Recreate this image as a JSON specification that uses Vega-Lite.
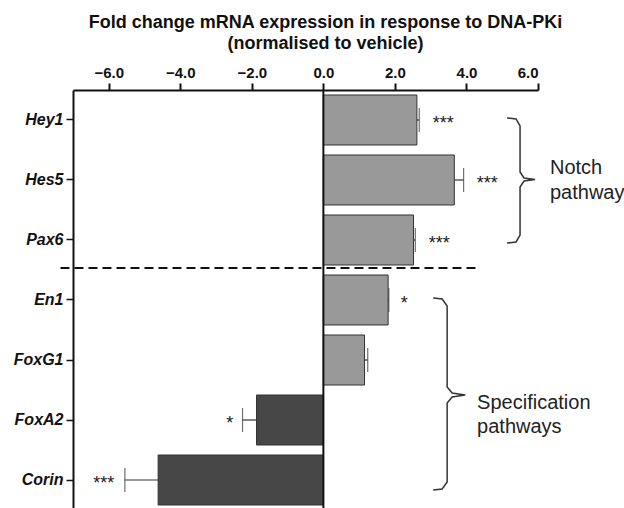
{
  "$schema": "https://vega.github.io/schema/vega-lite/v6.json",
  "width": 465,
  "height": 420,
  "autosize": "none",
  "padding": {"left": 73, "top": 90, "right": 86, "bottom": 0},
  "config": {
    "view": {"stroke": null},
    "font": "Liberation Sans"
  },
  "title": {
    "text": ["Fold change mRNA expression in response to DNA-PKi", "(normalised to vehicle)"],
    "fontSize": 18,
    "fontWeight": "bold",
    "color": "#111111",
    "anchor": "middle",
    "dx": 20,
    "offset": 12,
    "lineHeight": 21
  },
  "datasets": {
    "genes": [
      {"gene": "Hey1", "value": 2.615, "err": 2.68, "group": "up", "stars": "***", "starX": 3.35},
      {"gene": "Hes5", "value": 3.66, "err": 3.92, "group": "up", "stars": "***", "starX": 4.58},
      {"gene": "Pax6", "value": 2.52, "err": 2.57, "group": "up", "stars": "***", "starX": 3.24},
      {"gene": "En1", "value": 1.81, "err": 1.83, "group": "up", "stars": "*", "starX": 2.26},
      {"gene": "FoxG1", "value": 1.15, "err": 1.24, "group": "up", "stars": "", "starX": 1.6},
      {"gene": "FoxA2", "value": -1.87, "err": -2.26, "group": "down", "stars": "*", "starX": -2.62},
      {"gene": "Corin", "value": -4.62, "err": -5.55, "group": "down", "stars": "***", "starX": -6.14}
    ],
    "braces": [
      {"brace": "Notch", "i": 1, "x": 5.135, "y": 0.467},
      {"brace": "Notch", "i": 2, "x": 5.386, "y": 0.483},
      {"brace": "Notch", "i": 3, "x": 5.498, "y": 0.6},
      {"brace": "Notch", "i": 4, "x": 5.498, "y": 1.367},
      {"brace": "Notch", "i": 5, "x": 5.609, "y": 1.467},
      {"brace": "Notch", "i": 6, "x": 5.916, "y": 1.492},
      {"brace": "Notch", "i": 7, "x": 5.609, "y": 1.517},
      {"brace": "Notch", "i": 8, "x": 5.498, "y": 1.617},
      {"brace": "Notch", "i": 9, "x": 5.498, "y": 2.417},
      {"brace": "Notch", "i": 10, "x": 5.386, "y": 2.533},
      {"brace": "Notch", "i": 11, "x": 5.135, "y": 2.55},
      {"brace": "Spec", "i": 1, "x": 3.07, "y": 3.467},
      {"brace": "Spec", "i": 2, "x": 3.321, "y": 3.483},
      {"brace": "Spec", "i": 3, "x": 3.46, "y": 3.6},
      {"brace": "Spec", "i": 4, "x": 3.46, "y": 4.95},
      {"brace": "Spec", "i": 5, "x": 3.6, "y": 5.05},
      {"brace": "Spec", "i": 6, "x": 3.963, "y": 5.083},
      {"brace": "Spec", "i": 7, "x": 3.6, "y": 5.117},
      {"brace": "Spec", "i": 8, "x": 3.46, "y": 5.217},
      {"brace": "Spec", "i": 9, "x": 3.46, "y": 6.533},
      {"brace": "Spec", "i": 10, "x": 3.321, "y": 6.65},
      {"brace": "Spec", "i": 11, "x": 3.07, "y": 6.667}
    ],
    "labels": [
      {"label": "Notch", "x": 6.335, "y": 1.3},
      {"label": "pathway", "x": 6.335, "y": 1.72},
      {"label": "Specification", "x": 4.298, "y": 5.22},
      {"label": "pathways", "x": 4.298, "y": 5.62}
    ],
    "dash": [
      {"x": -7.35, "y": 2.967},
      {"x": 4.33, "y": 2.967}
    ],
    "zero": [
      {"x": 0, "y": 0, "y2": 7}
    ]
  },
  "layer": [
    {
      "data": {"name": "genes"},
      "encoding": {
        "y": {
          "field": "gene",
          "type": "nominal",
          "sort": null,
          "scale": {"paddingInner": 0.1667, "paddingOuter": 0.0833},
          "axis": {
            "title": null,
            "labelFontSize": 16,
            "labelFontWeight": "bold",
            "labelFontStyle": "italic",
            "labelColor": "#111111",
            "labelPadding": 3,
            "tickSize": 7,
            "tickWidth": 1.5,
            "tickColor": "#111111",
            "domainColor": "#111111",
            "domainWidth": 2
          }
        }
      },
      "layer": [
        {
          "mark": {"type": "bar", "stroke": "#333333", "strokeWidth": 1},
          "encoding": {
            "x": {
              "field": "value",
              "type": "quantitative",
              "scale": {"domain": [-7, 6], "nice": false, "zero": false},
              "axis": {
                "orient": "top",
                "title": null,
                "values": [-6, -4, -2, 0, 2, 4, 6],
                "format": ".1f",
                "grid": false,
                "labelFontSize": 15,
                "labelFontWeight": "bold",
                "labelColor": "#111111",
                "labelPadding": 3,
                "tickSize": 7,
                "tickWidth": 2,
                "tickColor": "#111111",
                "domainColor": "#111111",
                "domainWidth": 2
              }
            },
            "color": {
              "field": "group",
              "type": "nominal",
              "scale": {"domain": ["up", "down"], "range": ["#999999", "#474747"]},
              "legend": null
            }
          }
        },
        {
          "mark": {"type": "rule", "color": "#333333", "strokeWidth": 1.2},
          "encoding": {
            "x": {"field": "value", "type": "quantitative"},
            "x2": {"field": "err"}
          }
        },
        {
          "mark": {"type": "tick", "color": "#333333", "size": 24, "thickness": 1.2, "orient": "vertical"},
          "encoding": {
            "x": {"field": "err", "type": "quantitative"}
          }
        },
        {
          "mark": {"type": "text", "fontSize": 18, "color": "#1a1a1a", "baseline": "middle", "dy": 4},
          "encoding": {
            "x": {"field": "starX", "type": "quantitative"},
            "text": {"field": "stars"}
          }
        }
      ]
    },
    {
      "layer": [
        {
          "data": {"name": "dash"},
          "mark": {"type": "line", "color": "#111111", "strokeWidth": 2, "strokeDash": [9, 5]},
          "encoding": {
            "x": {"field": "x", "type": "quantitative"},
            "y": {"field": "y", "type": "quantitative", "scale": {"domain": [0, 7], "reverse": true, "nice": false, "zero": false}, "axis": null}
          }
        },
        {
          "data": {"name": "zero"},
          "mark": {"type": "rule", "color": "#111111", "strokeWidth": 2},
          "encoding": {
            "x": {"field": "x", "type": "quantitative"},
            "y": {"field": "y", "type": "quantitative"},
            "y2": {"field": "y2"}
          }
        },
        {
          "data": {"name": "braces"},
          "mark": {"type": "line", "color": "#333333", "strokeWidth": 1.5},
          "encoding": {
            "x": {"field": "x", "type": "quantitative"},
            "y": {"field": "y", "type": "quantitative"},
            "detail": {"field": "brace"},
            "order": {"field": "i", "type": "quantitative"}
          }
        },
        {
          "data": {"name": "labels"},
          "mark": {"type": "text", "fontSize": 20, "color": "#222222", "align": "left", "baseline": "middle"},
          "encoding": {
            "x": {"field": "x", "type": "quantitative"},
            "y": {"field": "y", "type": "quantitative"},
            "text": {"field": "label"}
          }
        }
      ]
    }
  ],
  "resolve": {"scale": {"y": "independent"}, "axis": {"y": "independent"}}
}
